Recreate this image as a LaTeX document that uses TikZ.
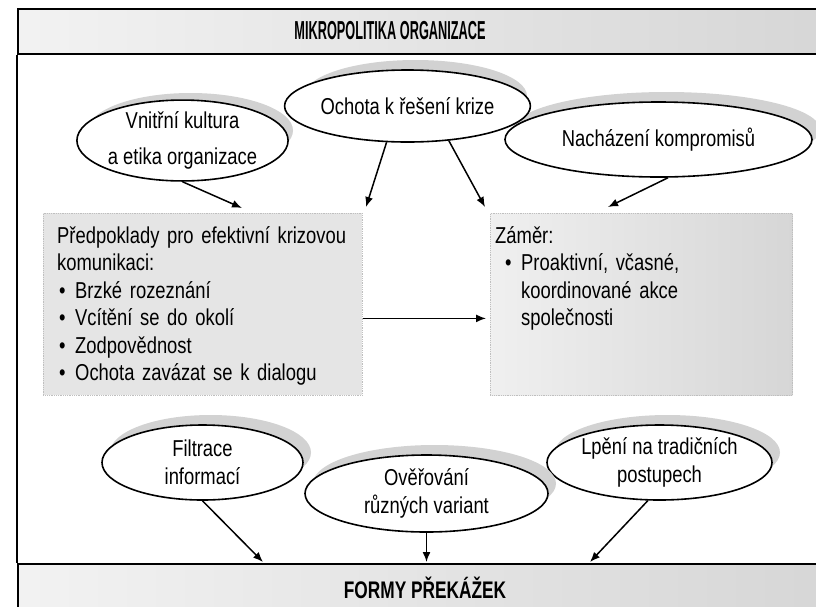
\documentclass[tikz,border=0pt]{standalone}
\usepackage{fontspec}
\setmainfont{Liberation Sans}[FakeStretch=0.8]
\newfontfamily\headA{Liberation Sans}[FakeStretch=0.49]
\newfontfamily\headB{Liberation Sans}[FakeStretch=0.72]
\usetikzlibrary{shapes.geometric,arrows.meta}
\newcommand\mybul{\makebox[7pt][l]{•}\hspace{9pt}}
\begin{document}
\begin{tikzpicture}[x=1pt,y=-1pt,
  txt/.style={font=\fontsize{23}{27.5}\selectfont},
  ell/.style={ellipse, draw=black, line width=1.6pt, fill=white, inner sep=0pt,
    align=center, txt},
  halo/.style={ellipse, draw=none, fill=gray!35, inner sep=0pt},
  band/.style={draw=black, line width=2pt, left color=gray!10, right color=gray!32, inner sep=0pt},
  stip/.style={draw=gray!50, densely dotted, line width=0.8pt, inner sep=0pt},
  frame/.style={draw=black, line width=1.6pt},
  arr/.style={-{Latex[length=10pt,width=8pt]}, line width=1.5pt},
  htext/.style={inner sep=0pt},
]
\clip (0,0) rectangle (816,606);
\fill[white] (0,0) rectangle (816,606);

% bands
\node[band, minimum width=813, minimum height=45, anchor=north west] (hband) at (17,8) {};
\node[band, minimum width=813, minimum height=60, anchor=north west] (bband) at (17,563) {};
\draw[frame] (hband.south west) -- (bband.north west);
\node[htext, font=\headA\bfseries\fontsize{26}{30}\selectfont] (htitle) at (390,31) {MIKROPOLITIKA ORGANIZACE};
\node[htext, font=\headB\bfseries\fontsize{24}{28}\selectfont] (btitle) at (425,588) {FORMY PŘEKÁŽEK};

% boxes
\node[stip, fill=gray!20, minimum width=319, minimum height=182, anchor=north west] (lbox) at (43,213) {};
\node[stip, left color=gray!12, right color=gray!32, minimum width=302, minimum height=182, anchor=north west] (rbox) at (490,213) {};
\node[txt, anchor=base west, align=left, text width=300, inner sep=0pt] (ltext) at (57,243)
  {Předpoklady pro efektivní krizovou\\komunikaci:\\\hspace*{2pt}\mybul Brzké rozeznání\\\hspace*{2pt}\mybul Vcítění se do okolí\\\hspace*{2pt}\mybul Zodpovědnost\\\hspace*{2pt}\mybul Ochota zavázat se k dialogu};
\node[txt, anchor=base west, align=left, text width=290, inner sep=0pt] (rtext) at (495,243)
  {Záměr:\\\hspace*{10pt}\mybul Proaktivní, včasné,\\\hspace*{26pt}koordinované akce\\\hspace*{26pt}společnosti};

% halos (shadows) of the ellipses
\node[halo, minimum width=205, minimum height=75] (vnh) at (190.5,130.5) {};
\node[halo, minimum width=223, minimum height=72] (och) at (415.5,96) {};
\node[halo, minimum width=307, minimum height=75] (nkh) at (666.5,129.5) {};
\node[halo, minimum width=201, minimum height=75] (fih) at (210.5,452.5) {};
\node[halo, minimum width=225, minimum height=75] (lph) at (667.5,452.5) {};

% top ellipses
\node[ell, minimum width=205, minimum height=75] (vn) at (182.5,140.5) {Vnitřní kultura\\[8pt]a etika organizace};
\node[ell, minimum width=223, minimum height=72] (oc) at (407.5,106) {Ochota k řešení krize};
\node[ell, minimum width=307, minimum height=75] (nk) at (658.5,139.5) {Nacházení kompromisů};

% bottom ellipses
\node[ell, minimum width=201, minimum height=75] (fi) at (202.5,462.5) {Filtrace\\informací};
\node[ell, minimum width=225, minimum height=75] (lp) at (659.5,462.5) {Lpění na tradičních\\postupech};
\node[halo, minimum width=243, minimum height=77] (ovh) at (434.5,483.5) {};
\node[ell, minimum width=243, minimum height=77] (ov) at (426.5,493.5) {Ověřování\\různých variant};

% arrow ends
\coordinate (t1) at (242,208);
\coordinate (t2) at (366,207);
\coordinate (t3) at (485,207);
\coordinate (t4) at (608,207);
\coordinate (b1) at (263,562);
\coordinate (b2) at (426.5,562);
\coordinate (b3) at (590,562);

\draw[arr] (vn.south) -- (t1);
\draw[arr] (oc.240) -- (t2);
\draw[arr] (oc.-40) -- (t3);
\draw[arr] (nk.-76) -- (t4);
\draw[arr] ([yshift=-14pt]lbox.east) -- ([yshift=-14pt,xshift=-4pt]rbox.west);
\draw[arr] (fi.south) -- (b1);
\draw[arr] (ov.south) -- (b2);
\draw[arr] (lp.-107) -- (b3);
\end{tikzpicture}
\end{document}
